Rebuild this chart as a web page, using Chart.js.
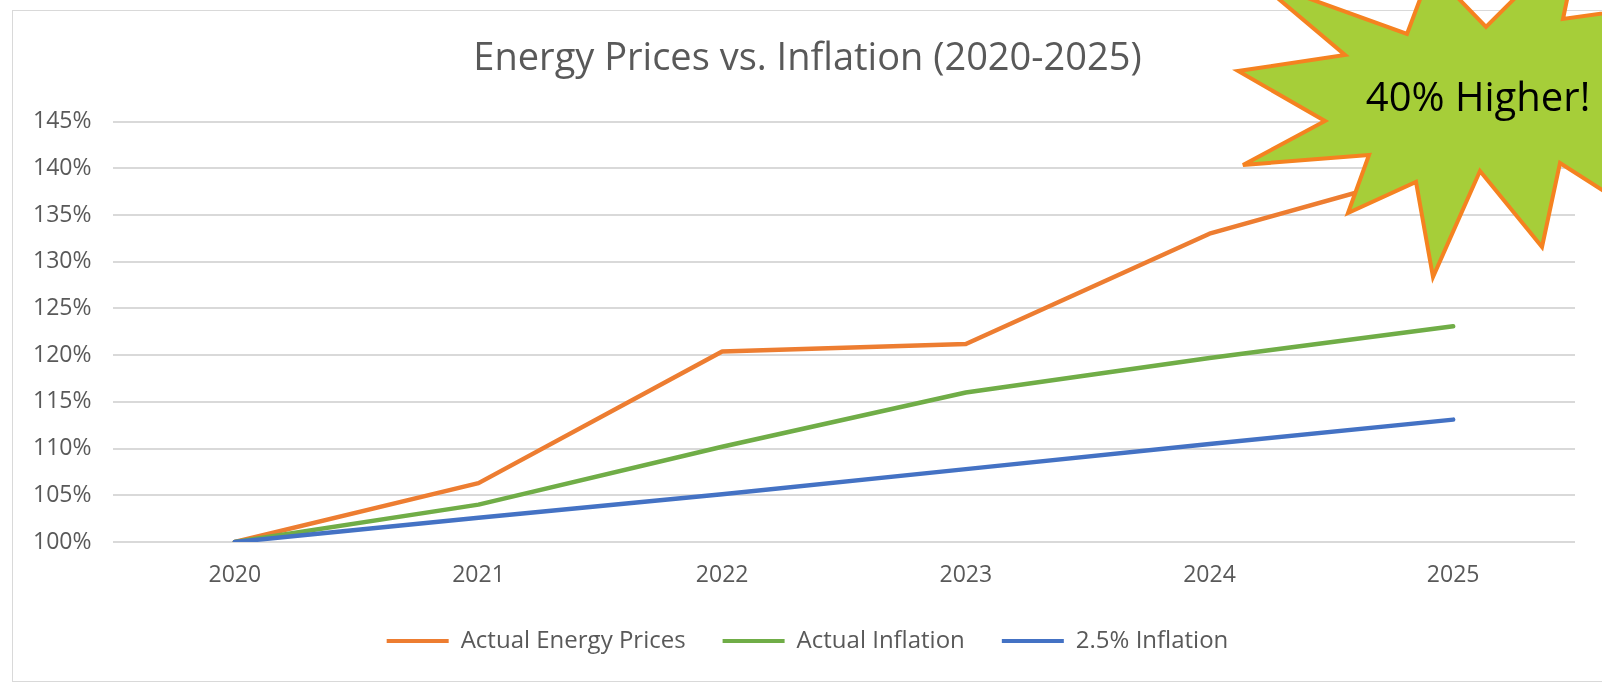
<!DOCTYPE html>
<html>
<head>
<meta charset="utf-8">
<script src="https://cdn.jsdelivr.net/npm/chart.js@4.4.1/dist/chart.umd.min.js"></script>
<style>
  html, body { margin: 0; padding: 0; background: #fff; overflow: hidden; }
  #wrap { position: relative; width: 1602px; height: 684px; }
  #frame { position: absolute; left: 12px; top: 10px; width: 1620px; height: 672px; border: 1px solid #d9d9d9; box-sizing: border-box; }
  #chart { position: absolute; left: 0; top: 0; }
  #burst { position: absolute; left: 0; top: 0; pointer-events: none; }
</style>
</head>
<body>
<div id="wrap">
  <div id="frame"></div>
  <canvas id="chart" width="1602" height="684"></canvas>
  <svg id="burst" width="1602" height="684" viewBox="0 0 1602 684">
    <polygon points="1238,71 1345,55 1255,-21 1407,34 1431,-30 1486,27 1581,-68 1563,19 1700,0 1650,100 1680,240 1560,163 1542,247 1480,171 1433,277 1416,182 1348,213 1369,155 1243,165 1325,121"
      fill="#a6ce39" stroke="#f58220" stroke-width="4" stroke-linejoin="miter"/>
    <text x="1478" y="111" text-anchor="middle" font-family="'Open Sans', sans-serif" font-size="40" fill="#000">40% Higher!</text>
  </svg>
</div>
<script>
const years = ['2020', '2021', '2022', '2023', '2024', '2025'];
const energyPrices = [100, 106.3, 120.4, 121.2, 133.0, 140.3];
const actualInflation = [100, 104.0, 110.2, 116.0, 119.7, 123.1];
const fixedInflation = [100, 102.6, 105.1, 107.8, 110.5, 113.1];
const seriesNames = ['Actual Energy Prices', 'Actual Inflation', '2.5% Inflation'];
const seriesColors = ['#ed7d31', '#70ad47', '#4472c4'];
const yMin = 100, yMax = 145, yStep = 5;

const textGray = '#595959';
const font = "'Open Sans', sans-serif";

const makeSet = (i, data) => ({
    label: seriesNames[i],
    data: data,
    borderColor: seriesColors[i],
    backgroundColor: seriesColors[i],
    borderWidth: 4.5,
    borderJoinStyle: 'round',
    borderCapStyle: 'round',
    pointRadius: 0,
    pointHoverRadius: 0,
    tension: 0,
    fill: false,
    order: 3 - i // later series drawn on top, like the original
});

new Chart(document.getElementById('chart'), {
    type: 'line',
    data: {
        labels: years,
        datasets: [
            makeSet(0, energyPrices),
            makeSet(1, actualInflation),
            makeSet(2, fixedInflation)
        ]
    },
    options: {
        responsive: false,
        animation: false,
        layout: { padding: { left: 40, right: 27, top: 0, bottom: 21 } },
        scales: {
            x: {
                offset: true,
                grid: { display: false, drawTicks: false },
                border: { display: false },
                ticks: {
                    color: textGray,
                    padding: 20,
                    font: { family: font, size: 23 }
                },
                afterFit: s => { s.height = 50; }
            },
            y: {
                min: yMin,
                max: yMax,
                grid: { color: '#d9d9d9', lineWidth: 2, drawTicks: false },
                border: { display: false },
                ticks: {
                    stepSize: yStep,
                    color: textGray,
                    mirror: true, // mirrored so the labels are not clipped to the narrow axis box
                    padding: -80,
                    font: { family: font, size: 23 },
                    callback: v => v + '%'
                },
                afterFit: s => { s.width = 73; }
            }
        },
        plugins: {
            title: {
                display: true,
                text: 'Energy Prices vs. Inflation (2020-2025)',
                color: textGray,
                font: { family: font, size: 38, weight: 'normal', lineHeight: 1.2 },
                padding: { top: 36, bottom: 40 }
            },
            legend: {
                position: 'bottom',
                labels: {
                    color: textGray,
                    boxWidth: 62,
                    boxHeight: 4,
                    padding: 37,
                    font: { family: font, size: 24 },
                    sort: (a, b) => a.datasetIndex - b.datasetIndex,
                    generateLabels: chart => Chart.defaults.plugins.legend.labels.generateLabels(chart)
                        .map(item => ({ ...item, lineWidth: 0 }))
                }
            },
            tooltip: { enabled: false }
        }
    }
});
</script>
</body>
</html>
